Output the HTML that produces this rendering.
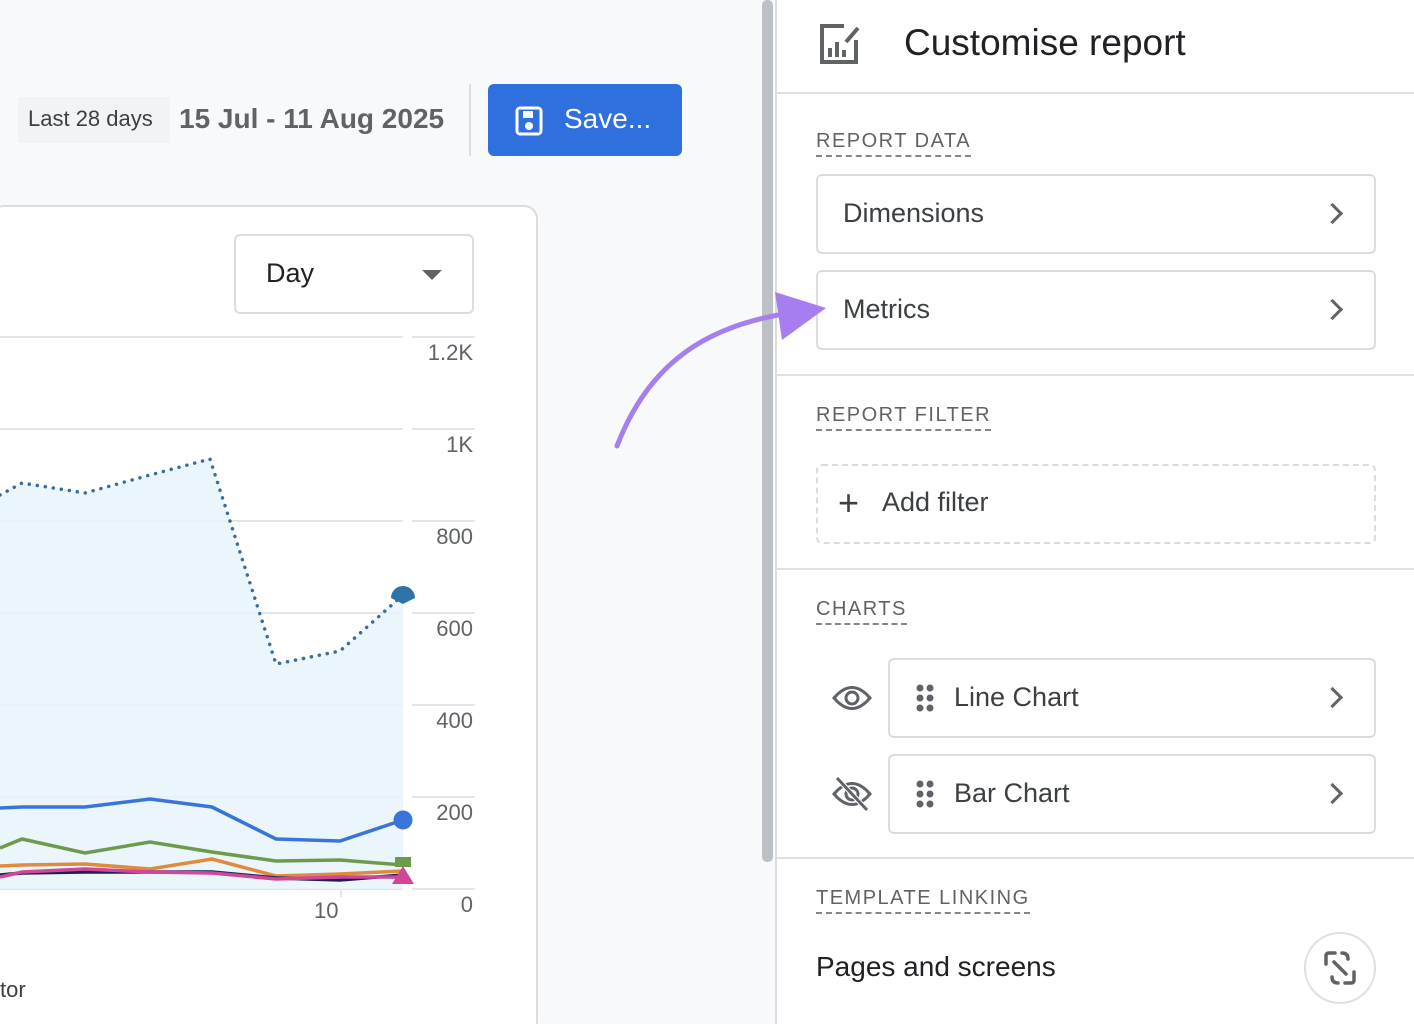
<!DOCTYPE html>
<html style="overflow:hidden;width:1414px;height:1024px"><head><style>
*{margin:0;padding:0;box-sizing:border-box}
body{width:1414px;height:1024px;overflow:hidden;background:#f8f9fa;font-family:"Liberation Sans",sans-serif;position:relative;color:#3c4043}
.a{position:absolute}
.box{position:absolute;border:2px solid #dadce0;border-radius:6px;background:#fff}
.lbl{position:absolute;font-size:20px;letter-spacing:1.5px;color:#5f6368;border-bottom:2px dashed #80868b;padding-bottom:2px}
.item{font-size:27px;color:#3c4043}
.chev{position:absolute;right:34px;top:30px;width:15px;height:15px;border-right:3px solid #5f6368;border-top:3px solid #5f6368;transform:rotate(45deg)}
.ytick{position:absolute;font-size:22px;color:#5f6368;right:0;text-align:right}
</style></head><body>
<div class="a" style="left:18px;top:97px;width:152px;height:46px;background:#f1f3f4"></div>
<div class="a" style="left:28px;top:106px;font-size:22px;color:#3c4043">Last 28 days</div>
<div class="a" style="left:179px;top:103px;font-size:28px;font-weight:bold;color:#5f6368">15 Jul - 11 Aug 2025</div>
<div class="a" style="left:469px;top:84px;width:2px;height:72px;background:#dadce0"></div>
<div class="a" style="left:488px;top:84px;width:194px;height:72px;background:#2f6fde;border-radius:6px"></div>
<svg class="a" style="left:514px;top:106px" width="32" height="30" viewBox="0 0 32 30"><rect x="3" y="2" width="24" height="26" rx="3" fill="none" stroke="#fff" stroke-width="3"/><rect x="9" y="5" width="10" height="7" fill="#fff"/><circle cx="15" cy="20" r="4" fill="#fff"/></svg>
<div class="a" style="left:564px;top:103px;font-size:28px;color:#fff">Save...</div>
<div class="a" style="left:-10px;top:205px;width:548px;height:830px;background:#fff;border:2px solid #dadce0;border-radius:14px"></div>
<div class="box" style="left:234px;top:234px;width:240px;height:80px"></div>
<div class="a" style="left:266px;top:258px;font-size:27px;color:#202124">Day</div>
<div class="a" style="left:422px;top:270px;width:0;height:0;border-left:10px solid transparent;border-right:10px solid transparent;border-top:10px solid #5f6368"></div>
<svg class="a" style="left:0;top:0" width="780" height="1024">
<g stroke="#e3e5e8" stroke-width="2">
<line x1="0" y1="337" x2="403" y2="337"/><line x1="412" y1="337" x2="475" y2="337"/>
<line x1="0" y1="429" x2="403" y2="429"/><line x1="412" y1="429" x2="475" y2="429"/>
<line x1="0" y1="521" x2="403" y2="521"/><line x1="412" y1="521" x2="475" y2="521"/>
<line x1="0" y1="613" x2="403" y2="613"/><line x1="412" y1="613" x2="475" y2="613"/>
<line x1="0" y1="705" x2="403" y2="705"/><line x1="412" y1="705" x2="475" y2="705"/>
<line x1="0" y1="797" x2="403" y2="797"/><line x1="412" y1="797" x2="475" y2="797"/>
<line x1="0" y1="889" x2="403" y2="889"/><line x1="412" y1="889" x2="475" y2="889"/>
<line x1="341" y1="889" x2="341" y2="897"/>
</g>
<path d="M0,495 L22,483 L85,493 L150,475 L210,459 L276,664 L340,651 L403,595 L403,889 L0,889Z" fill="#e8f3fc" opacity="0.85"/>
<path d="M0,495 L22,483 L85,493 L150,475 L210,459 L276,664 L340,651 L403,595" fill="none" stroke="#3a6e96" stroke-width="3.5" stroke-dasharray="0.1 8" stroke-linecap="round"/>
<path d="M391,598 A12,12 0 0 1 415,598 L403,604 Z" fill="#2f73a8"/>
<polyline points="0,848 22,839 85,853 150,842 212,852 276,861 340,860 403,865" fill="none" stroke="#6e9a4b" stroke-width="3.5"/>
<polyline points="0,866 22,865 85,864 150,869 212,859 276,876 340,874 403,871" fill="none" stroke="#e08a3c" stroke-width="3.5"/>
<polyline points="0,875 22,873 85,872 150,872 212,872 276,878 340,880 403,875" fill="none" stroke="#1b1f5a" stroke-width="3.5"/>
<polyline points="0,877 22,872 85,869 150,872 212,873 276,879 340,877 403,877" fill="none" stroke="#d0479a" stroke-width="3.5"/>
<polyline points="0,808 22,807 85,807 150,799 212,807 276,839 340,841 403,820" fill="none" stroke="#3b74d8" stroke-width="3.5"/>
<circle cx="403" cy="820" r="9.5" fill="#3b74d8"/>
<rect x="395" y="857" width="16" height="10" fill="#6e9a4b"/>
<polygon points="392,884 414,884 403,866" fill="#d0479a"/>
</svg>
<div class="a" style="left:393px;top:0;width:80px">
<div class="ytick" style="top:340px">1.2K</div>
<div class="ytick" style="top:432px">1K</div>
<div class="ytick" style="top:524px">800</div>
<div class="ytick" style="top:616px">600</div>
<div class="ytick" style="top:708px">400</div>
<div class="ytick" style="top:800px">200</div>
<div class="ytick" style="top:892px">0</div>
</div>
<div class="a" style="left:314px;top:898px;font-size:22px;color:#5f6368">10</div>
<div class="a" style="left:0;top:977px;font-size:22px;color:#3c4043">tor</div>
<div class="a" style="left:762px;top:0;width:11px;height:862px;background:#bdc1c6;border-radius:5px"></div>
<div class="a" style="left:775px;top:0;width:639px;height:1024px;background:#fff;border-left:2px solid #dadce0"></div>
<svg class="a" style="left:818px;top:22px" width="44" height="44" viewBox="0 0 44 44"><path d="M26,4 H4 V40 H38 V18" fill="none" stroke="#5f6368" stroke-width="4"/><rect x="10" y="26" width="4" height="9" fill="#5f6368"/><rect x="17" y="20" width="4" height="15" fill="#5f6368"/><rect x="24" y="28" width="4" height="7" fill="#5f6368"/><path d="M28,20 L40,6" stroke="#5f6368" stroke-width="4"/></svg>
<div class="a" style="left:904px;top:22px;font-size:37px;color:#202124">Customise report</div>
<div class="a" style="left:777px;top:92px;width:637px;height:2px;background:#e0e0e0"></div>
<div class="lbl" style="left:816px;top:130px">REPORT DATA</div>
<div class="box" style="left:816px;top:174px;width:560px;height:80px"><div class="a item" style="left:25px;top:22px">Dimensions</div><div class="chev"></div></div>
<div class="box" style="left:816px;top:270px;width:560px;height:80px"><div class="a item" style="left:25px;top:22px">Metrics</div><div class="chev"></div></div>
<div class="a" style="left:777px;top:374px;width:637px;height:2px;background:#e0e0e0"></div>
<div class="lbl" style="left:816px;top:404px">REPORT FILTER</div>
<div class="a" style="left:816px;top:464px;width:560px;height:80px;border:2px dashed #dadce0;border-radius:6px"></div>
<div class="a" style="left:838px;top:485px;font-size:36px;color:#3c4043;line-height:36px">+</div>
<div class="a item" style="left:882px;top:487px">Add filter</div>
<div class="a" style="left:777px;top:568px;width:637px;height:2px;background:#e0e0e0"></div>
<div class="lbl" style="left:816px;top:598px">CHARTS</div>
<svg class="a" style="left:832px;top:683px" width="40" height="30" viewBox="0 0 40 30"><path d="M2,15 Q20,-6 38,15 Q20,36 2,15Z" fill="none" stroke="#5f6368" stroke-width="3"/><circle cx="20" cy="15" r="6" fill="none" stroke="#5f6368" stroke-width="3"/></svg>
<svg class="a" style="left:832px;top:776px" width="40" height="36" viewBox="0 0 40 36"><path d="M2,18 Q20,-3 38,18 Q20,39 2,18Z" fill="none" stroke="#5f6368" stroke-width="3"/><circle cx="20" cy="18" r="6" fill="none" stroke="#5f6368" stroke-width="3"/><line x1="5" y1="2" x2="35" y2="34" stroke="#fff" stroke-width="5"/><line x1="5" y1="2" x2="35" y2="34" stroke="#5f6368" stroke-width="3"/></svg>
<div class="box" style="left:888px;top:658px;width:488px;height:80px"><svg class="a" style="left:26px;top:24px" width="20" height="30"><g fill="#5f6368"><circle cx="4" cy="4" r="3.5"/><circle cx="14" cy="4" r="3.5"/><circle cx="4" cy="14" r="3.5"/><circle cx="14" cy="14" r="3.5"/><circle cx="4" cy="24" r="3.5"/><circle cx="14" cy="24" r="3.5"/></g></svg><div class="a item" style="left:64px;top:22px">Line Chart</div><div class="chev"></div></div>
<div class="box" style="left:888px;top:754px;width:488px;height:80px"><svg class="a" style="left:26px;top:24px" width="20" height="30"><g fill="#5f6368"><circle cx="4" cy="4" r="3.5"/><circle cx="14" cy="4" r="3.5"/><circle cx="4" cy="14" r="3.5"/><circle cx="14" cy="14" r="3.5"/><circle cx="4" cy="24" r="3.5"/><circle cx="14" cy="24" r="3.5"/></g></svg><div class="a item" style="left:64px;top:22px">Bar Chart</div><div class="chev"></div></div>
<div class="a" style="left:777px;top:857px;width:637px;height:2px;background:#e0e0e0"></div>
<div class="lbl" style="left:816px;top:887px">TEMPLATE LINKING</div>
<div class="a" style="left:816px;top:951px;font-size:28px;color:#202124">Pages and screens</div>
<div class="a" style="left:1304px;top:932px;width:72px;height:72px;border:2px solid #e0e0e0;border-radius:50%"></div>
<svg class="a" style="left:1322px;top:950px" width="36" height="36" viewBox="0 0 36 36"><g fill="none" stroke="#5f6368" stroke-width="3.5" stroke-linecap="round"><path d="M4,14 V6 Q4,3 7,3 H13"/><path d="M20,3 Q26,3 26,9"/><path d="M32,22 V30 Q32,33 29,33 H23"/><path d="M16,33 Q10,33 10,27"/><line x1="12" y1="12" x2="24" y2="24"/></g></svg>
<svg class="a" style="left:0;top:0;z-index:5" width="900" height="500">
<path d="M617,446 C650,360 710,325 790,313" fill="none" stroke="#a67ef0" stroke-width="5" stroke-linecap="round"/>
<polygon points="775,292 826,308 782,340" fill="#a67ef0"/>
</svg>
</body></html>
